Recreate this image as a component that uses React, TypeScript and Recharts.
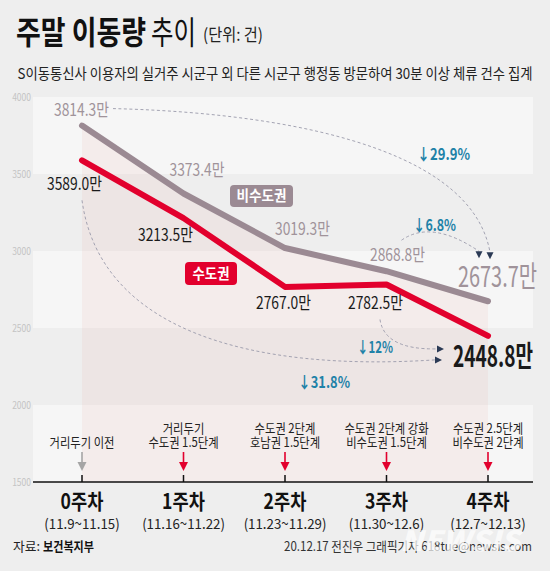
import React from 'react';
import {
  ComposedChart,
  Line,
  Area,
  XAxis,
  YAxis,
  CartesianGrid,
  LabelList,
  ReferenceLine,
  ReferenceDot,
} from 'recharts';

// ---------- data ----------
const weeks = ['0주차', '1주차', '2주차', '3주차', '4주차'];
const dates = ['(11.9~11.15)', '(11.16~11.22)', '(11.23~11.29)', '(11.30~12.6)', '(12.7~12.13)'];
const capital = [3589.0, 3213.5, 2767.0, 2782.5, 2448.8];
const nonCapital = [3814.3, 3373.4, 3019.3, 2868.8, 2673.7];
const eventLine1 = ['', '거리두기', '수도권 2단계', '수도권 2단계 강화', '수도권 2.5단계'];
const eventLine2 = ['거리두기 이전', '수도권 1.5단계', '호남권 1.5단계', '비수도권 1.5단계', '비수도권 2단계'];
const yTicks = [1500, 2000, 2500, 3000, 3500, 4000];
const changeLabels = ['↓29.9%', '↓6.8%', '↓12%', '↓31.8%'];
const seriesNames = ['수도권', '비수도권'];

const data = weeks.map((w, i) => ({ week: w, capital: capital[i], nonCapital: nonCapital[i] }));

// ---------- styles ----------
const FONT = '"Noto Sans CJK KR", "Noto Sans", sans-serif';
const BG = '#eeeeee';
const BAND = '#f6f6f6';
const GRAY = '#9b8a93';
const GRAY_TEXT = '#a0939a';
const RED = '#e2002d';
const TEAL = '#1f82a8';
const DASH = '#9a9aaa';
const NAVY = '#2b3a55';

// label offsets (dx, baseline dy) relative to each point
const grayLabelPos = [[-0.5, -10], [13.5, -17], [17.5, -13.4], [11, -10.6], [9.5, -14.3]];
const redLabelPos = [[-7.5, 29.3], [-18, 22.5], [-1.5, 21.7], [-11, 24.1], [5, 30.8]];

const fmt = (v: number) => `${v.toFixed(1)}만`;

function T(props: any) {
  const { x, y, w, size, weight = 400, fill = '#222', anchor = 'start', children, style } = props;
  return (
    <text
      x={x}
      y={y}
      fontSize={size}
      fontWeight={weight}
      fill={fill}
      textAnchor={anchor}
      textLength={w}
      lengthAdjust="spacingAndGlyphs"
      fontFamily={FONT}
      style={style}
    >
      {children}
    </text>
  );
}

function S(props: any) {
  const { x, y, sx = 1, size, weight = 400, fill = '#222', anchor = 'middle', children } = props;
  return (
    <g transform={`translate(${x} ${y}) scale(${sx} 1)`}>
      <text x={0} y={0} fontSize={size} fontWeight={weight} fill={fill} textAnchor={anchor} fontFamily={FONT}>
        {children}
      </text>
    </g>
  );
}

function WeekTick(props: any) {
  const { x, y, payload } = props;
  const i = weeks.indexOf(payload.value);
  const arrowColor = i === 0 ? '#a5a5a5' : RED;
  return (
    <g>
      <line x1={x} x2={x} y1={y - 7} y2={y} stroke="#111" strokeWidth={1.5} />
      <line x1={x} x2={x} y1={y - 30} y2={y - 18} stroke={arrowColor} strokeWidth={1.6} />
      <path d={`M${x - 4.5},${y - 20} L${x + 4.5},${y - 20} L${x},${y - 11} Z`} fill={arrowColor} />
      {eventLine1[i] ? (
        <S x={x} y={y - 49} size={13} sx={0.87}>
          {eventLine1[i]}
        </S>
      ) : null}
      <S x={x} y={y - 35} size={13} sx={0.87}>
        {eventLine2[i]}
      </S>
      <S x={x} y={y + 27} size={21} weight={700} sx={0.84} fill="#111">
        {weeks[i]}
      </S>
      <S x={x} y={y + 47} size={14} sx={0.95} fill="#222">
        {dates[i]}
      </S>
    </g>
  );
}

function ValueTick(props: any) {
  const { x, y, payload } = props;
  return (
    <S x={x} y={y + 3.5} size={10} sx={0.85} fill="#c4c4c4" anchor="end">
      {payload.value}
    </S>
  );
}

function grayLabel(props: any) {
  const { x, y, value, index } = props;
  const i = typeof index === 'number' ? index : nonCapital.indexOf(value);
  const [dx, dy] = grayLabelPos[i];
  const big = i === nonCapital.length - 1;
  return (
    <T x={x + dx} y={y + dy} w={big ? 79 : 55} size={big ? 29 : 17} fill={GRAY_TEXT} anchor="middle">
      {fmt(value)}
    </T>
  );
}

function redLabel(props: any) {
  const { x, y, value, index } = props;
  const i = typeof index === 'number' ? index : capital.indexOf(value);
  const [dx, dy] = redLabelPos[i];
  const big = i === capital.length - 1;
  return (
    <T x={x + dx} y={y + dy} w={big ? 80 : 55} size={big ? 29 : 17} weight={big ? 700 : 400} fill="#1a1a1a" anchor="middle">
      {fmt(value)}
    </T>
  );
}

const downHead = (x: number, y: number) => `M${x - 3.5},${y - 3} L${x + 3.5},${y - 3} L${x},${y + 4} Z`;
const rightHead = (x: number, y: number) => `M${x - 3},${y - 3.5} L${x - 3},${y + 3.5} L${x + 4},${y} Z`;

const dashProps = { fill: 'none', stroke: DASH, strokeWidth: 0.9, strokeDasharray: '3 2.5' };

// curve: first week non-capital -> last week non-capital
function curveNonCapitalTotal(p: any) {
  const { x1, y1, x2, y2 } = p;
  if (x1 == null) return <g />;
  const sX = x1 + 31, sY = y1 - 17;
  const eX = x2 + 2, eY = y2 - 46;
  return (
    <g>
      <path d={`M${sX},${sY} C${sX + 147},${sY + 3.4} ${eX - 20},${sY + 31.4} ${eX},${eY - 3}`} {...dashProps} />
      <path d={downHead(eX, eY)} fill={NAVY} />
      <T x={x2 - 44.5} y={y2 - 141} w={53} size={16} weight={700} fill={TEAL} anchor="middle">
        {changeLabels[0]}
      </T>
    </g>
  );
}

function curveNonCapitalWeek(p: any) {
  const { x1, y1, x2, y2 } = p;
  if (x1 == null) return <g />;
  const sX = x1 + 15, sY = y1 - 31;
  const eX = x2 - 9, eY = y2 - 47;
  return (
    <g>
      <path d={`M${sX},${sY} Q${x1 + 45},${y1 - 52} ${eX},${eY - 3}`} {...dashProps} />
      <path d={downHead(eX, eY)} fill={NAVY} />
      <T x={x1 + 48} y={y1 - 40.7} w={43} size={16} weight={700} fill={TEAL} anchor="middle">
        {changeLabels[1]}
      </T>
    </g>
  );
}

function curveCapitalWeek(p: any) {
  const { x1, y1, x2, y2 } = p;
  if (x1 == null) return <g />;
  const sX = x1 - 6.5, sY = y1 + 35;
  const eX = x2 - 48, eY = y2 + 13;
  return (
    <g>
      <path d={`M${sX},${sY} Q${x1 - 2},${y2 + 14} ${eX - 3},${eY}`} {...dashProps} />
      <path d={rightHead(eX, eY)} fill={NAVY} />
      <T x={x1 - 11.5} y={y1 + 69} w={36} size={16} weight={700} fill={TEAL} anchor="middle">
        {changeLabels[2]}
      </T>
    </g>
  );
}

function curveCapitalTotal(p: any) {
  const { x1, y1, x2, y2 } = p;
  if (x1 == null) return <g />;
  const sX = x1, sY = y1 + 40;
  const eX = x2 - 50, eY = y2 + 24;
  return (
    <g>
      <path d={`M${sX},${sY} C${x1 + 18},${y1 + 170} ${x1 + 168},${y2 + 36} ${eX - 3},${eY}`} {...dashProps} />
      <path d={rightHead(eX, eY)} fill={NAVY} />
      <T x={x2 - 164} y={y2 + 52.6} w={52} size={16} weight={700} fill={TEAL} anchor="middle">
        {changeLabels[3]}
      </T>
    </g>
  );
}

function nonCapitalBadge(p: any) {
  const { cx, cy } = p;
  if (cx == null) return <g />;
  return (
    <g>
      <rect x={cx + 46.5} y={cy - 8.5} width={63} height={22} rx={4} fill={GRAY} />
      <T x={cx + 78} y={cy + 7.5} w={50} size={15} weight={700} fill="#fff" anchor="middle">
        {seriesNames[1]}
      </T>
    </g>
  );
}

function capitalBadge(p: any) {
  const { cx, cy } = p;
  if (cx == null) return <g />;
  return (
    <g>
      <rect x={cx + 1.5} y={cy + 44} width={52} height={23} rx={4} fill={RED} />
      <T x={cx + 27.5} y={cy + 60.4} w={37} size={15} weight={700} fill="#fff" anchor="middle">
        {seriesNames[0]}
      </T>
    </g>
  );
}

export default function App() {
  const last = weeks.length - 1;
  return (
    <div
      style={{
        position: 'absolute',
        left: 0,
        top: 0,
        width: 550,
        height: 571,
        background: BG,
        overflow: 'hidden',
        fontFamily: FONT,
      }}
    >
      <div style={{ position: 'absolute', left: 0, top: 0 }}>
        <ComposedChart width={550} height={571} data={data} margin={{ top: 97, right: 17, bottom: 29, left: 8 }}>
          <CartesianGrid horizontal vertical={false} stroke="none" horizontalFill={[BAND, 'transparent']} fillOpacity={1} />
          <XAxis
            dataKey="week"
            padding={{ left: 49, right: 45 }}
            axisLine={{ stroke: '#111', strokeWidth: 1.5 }}
            tickLine={false}
            tickSize={0}
            tickMargin={0}
            height={60}
            interval={0}
            tick={<WeekTick />}
          />
          <YAxis
            domain={[1500, 4000]}
            ticks={yTicks}
            width={25}
            axisLine={false}
            tickLine={false}
            tickSize={0}
            tickMargin={2}
            tick={<ValueTick />}
            allowDataOverflow
          />
          <Area
            dataKey="nonCapital"
            type="linear"
            fill="#e8a8a0"
            fillOpacity={0.12}
            stroke="none"
            dot={false}
            activeDot={false}
            isAnimationActive={false}
          />
          <ReferenceLine
            segment={[{ x: weeks[0], y: nonCapital[0] }, { x: weeks[last], y: nonCapital[last] }]}
            shape={curveNonCapitalTotal}
            ifOverflow="visible"
          />
          <ReferenceLine
            segment={[{ x: weeks[3], y: nonCapital[3] }, { x: weeks[last], y: nonCapital[last] }]}
            shape={curveNonCapitalWeek}
            ifOverflow="visible"
          />
          <ReferenceLine
            segment={[{ x: weeks[3], y: capital[3] }, { x: weeks[last], y: capital[last] }]}
            shape={curveCapitalWeek}
            ifOverflow="visible"
          />
          <ReferenceLine
            segment={[{ x: weeks[0], y: capital[0] }, { x: weeks[last], y: capital[last] }]}
            shape={curveCapitalTotal}
            ifOverflow="visible"
          />
          <Line
            dataKey="nonCapital"
            type="linear"
            stroke={GRAY}
            strokeWidth={6}
            strokeLinecap="round"
            strokeLinejoin="round"
            dot={false}
            activeDot={false}
            isAnimationActive={false}
          >
            <LabelList dataKey="nonCapital" content={grayLabel} />
          </Line>
          <Line
            dataKey="capital"
            type="linear"
            stroke={RED}
            strokeWidth={6}
            strokeLinecap="round"
            strokeLinejoin="round"
            dot={false}
            activeDot={false}
            isAnimationActive={false}
          >
            <LabelList dataKey="capital" content={redLabel} />
          </Line>
          <ReferenceDot x={weeks[1]} y={nonCapital[1]} r={0} shape={nonCapitalBadge} ifOverflow="visible" />
          <ReferenceDot x={weeks[1]} y={capital[1]} r={0} shape={capitalBadge} ifOverflow="visible" />
        </ComposedChart>
      </div>
      <svg width={550} height={571} style={{ position: 'absolute', left: 0, top: 0, pointerEvents: 'none' }}>
        <T x={16} y={44} w={130} size={32} weight={700} fill="#111">주말 이동량</T>
        <T x={151} y={44} w={45} size={32} weight={400} fill="#111">추이</T>
        <T x={203} y={41} w={60} size={17} weight={400} fill="#222">(단위: 건)</T>
        <T x={17.5} y={79} w={515} size={15} weight={400} fill="#222">
          S이동통신사 이용자의 실거주 시군구 외 다른 시군구 행정동 방문하여 30분 이상 체류 건수 집계
        </T>
        <T x={13} y={551} w={27} size={13} weight={400} fill="#222">자료:</T>
        <T x={43} y={551} w={51} size={13} weight={700} fill="#111">보건복지부</T>
        <T x={284} y={551} w={248} size={13} weight={400} fill="#333">
          20.12.17 전진우 그래픽기자 618tue@newsis.com
        </T>
        <T x={400} y={551} w={120} size={28} weight={900} fill="#ffffff" style={{ fontStyle: 'italic', opacity: 0.7 }}>
          NEWSIS
        </T>
      </svg>
    </div>
  );
}
